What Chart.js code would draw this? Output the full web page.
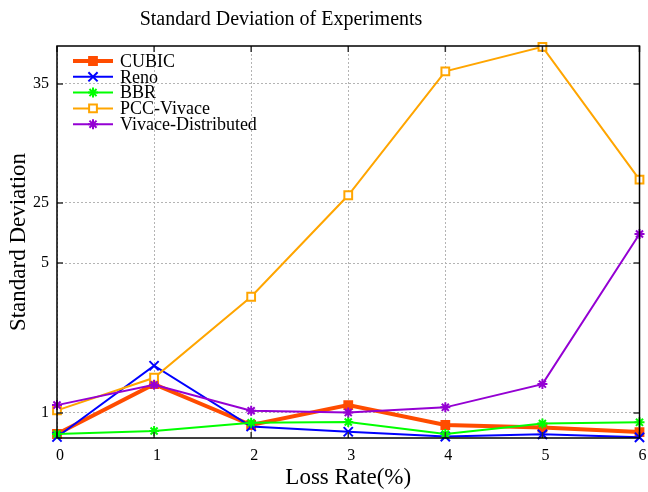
<!DOCTYPE html>
<html>
<head>
<meta charset="utf-8">
<title>Standard Deviation of Experiments</title>
<script src="https://cdn.jsdelivr.net/npm/chart.js@4/dist/chart.umd.min.js"></script>
<style>
  html, body { margin: 0; padding: 0; background: #fff; }
  canvas { display: block; }
</style>
</head>
<body>
<canvas id="sd-chart" width="648" height="492"></canvas>
<script>
// data
const lossRates = [0, 1, 2, 3, 4, 5, 6];
const seriesNames = ['CUBIC', 'Reno', 'BBR', 'PCC-Vivace', 'Vivace-Distributed'];
const cubicSd = [0.44, 1.77, 0.68, 1.21, 0.68, 0.61, 0.49];
const renoSd = [0.36, 2.26, 0.64, 0.50, 0.37, 0.43, 0.35];
const bbrSd = [0.44, 0.52, 0.74, 0.76, 0.44, 0.72, 0.75];
const vivaceSd = [1.07, 1.94, 4.10, 25.65, 36.07, 38.13, 26.96];
const vivaceDistSd = [1.21, 1.75, 1.06, 1.01, 1.15, 1.77, 14.67];
const yTickValues = [1, 5, 25, 35];

// the y axis of the original is stretched unevenly between its labels,
// so the scale maps values piecewise: [value, fraction of axis height]
const yKnots = [[0.333, 0], [1, 0.0638], [5, 0.4464], [25, 0.5995], [35, 0.9031], [38.2, 1]];

class PiecewiseScale extends Chart.LinearScale {
    static id = 'piecewise';
    static defaults = Chart.LinearScale.defaults;

    buildTicks() {
        return yTickValues.map(v => ({ value: v }));
    }

    getPixelForValue(value) {
        const k = yKnots;
        let i = 0;
        while (i < k.length - 2 && value > k[i + 1][0]) i++;
        const f = k[i][1] + (value - k[i][0]) * (k[i + 1][1] - k[i][1]) / (k[i + 1][0] - k[i][0]);
        return this.getPixelForDecimal(f);
    }

    getValueForPixel(pixel) {
        const f = this.getDecimalForPixel(pixel);
        const k = yKnots;
        let i = 0;
        while (i < k.length - 2 && f > k[i + 1][1]) i++;
        return k[i][0] + (f - k[i][1]) * (k[i + 1][0] - k[i][0]) / (k[i + 1][1] - k[i][1]);
    }
}
Chart.register(PiecewiseScale);

const FONT = 'Liberation Serif';

// frame, inward tick marks, title and legend drawn like the original
const decorPlugin = {
    id: 'decor',
    afterDraw(chart) {
        const ctx = chart.ctx;
        const area = chart.chartArea;
        const xs = chart.scales.x;
        const ys = chart.scales.y;

        ctx.save();
        ctx.strokeStyle = '#333';
        ctx.lineWidth = 1.5;
        ctx.beginPath();
        xs.ticks.forEach((t, i) => {
            const px = xs.getPixelForTick(i);
            ctx.moveTo(px, area.bottom); ctx.lineTo(px, area.bottom - 6);
            ctx.moveTo(px, area.top); ctx.lineTo(px, area.top + 6);
        });
        ys.ticks.forEach((t, i) => {
            const py = ys.getPixelForTick(i);
            ctx.moveTo(area.left, py); ctx.lineTo(area.left + 6, py);
            ctx.moveTo(area.right, py); ctx.lineTo(area.right - 6, py);
        });
        ctx.stroke();

        ctx.strokeStyle = '#000';
        ctx.lineWidth = 1.5;
        ctx.strokeRect(area.left, area.top, area.right - area.left, area.bottom - area.top);

        // title
        ctx.fillStyle = '#000';
        ctx.font = '20px "' + FONT + '"';
        ctx.textAlign = 'center';
        ctx.textBaseline = 'alphabetic';
        ctx.fillText('Standard Deviation of Experiments', 281, 25);

        // legend
        ctx.font = '18px "' + FONT + '"';
        ctx.textAlign = 'left';
        ctx.textBaseline = 'middle';
        chart.data.datasets.forEach((ds, i) => {
            const y = 61 + i * 15.8;
            ctx.strokeStyle = ds.borderColor;
            ctx.lineWidth = ds.borderWidth;
            ctx.beginPath();
            ctx.moveTo(73, y); ctx.lineTo(113, y);
            ctx.stroke();
            ctx.strokeStyle = ds.borderColor;
            ctx.fillStyle = ds.pointBackgroundColor;
            ctx.lineWidth = ds.pointBorderWidth;
            Chart.helpers.drawPoint(ctx, {
                pointStyle: ds.pointStyle,
                radius: ds.pointRadius,
                borderWidth: ds.pointBorderWidth,
                rotation: 0
            }, 93, y);
            ctx.fillStyle = '#000';
            ctx.fillText(ds.label, 120, y + 1);
        });
        ctx.restore();
    }
};

function makeSeries(label, values, color, lineWidth, pointStyle, radius, fillColor, order) {
    return {
        label: label,
        data: values,
        borderColor: color,
        backgroundColor: color,
        borderWidth: lineWidth,
        pointStyle: pointStyle,
        pointRadius: radius,
        pointHoverRadius: radius,
        pointBorderWidth: 2,
        pointBackgroundColor: fillColor,
        pointBorderColor: color,
        tension: 0,
        fill: false,
        clip: false,
        order: order
    };
}

const ctx = document.getElementById('sd-chart');
new Chart(ctx, {
    type: 'line',
    data: {
        labels: lossRates,
        datasets: [
            makeSeries(seriesNames[0], cubicSd, '#ff4c00', 4, 'rect', 5.5, '#ff4c00', 4),
            makeSeries(seriesNames[1], renoSd, '#0000ff', 2, 'crossRot', 6.5, '#0000ff', 3),
            makeSeries(seriesNames[2], bbrSd, '#00ff00', 2, 'star', 5, '#00ff00', 2),
            makeSeries(seriesNames[3], vivaceSd, '#ffa500', 2, 'rect', 5.5, '#ffffff', 1),
            makeSeries(seriesNames[4], vivaceDistSd, '#9400d3', 2, 'star', 5, '#9400d3', 0)
        ]
    },
    options: {
        responsive: false,
        animation: false,
        layout: { padding: { top: 46, right: 8, left: 0, bottom: 0 } },
        plugins: {
            legend: { display: false },
            title: { display: false },
            tooltip: { enabled: false }
        },
        scales: {
            x: {
                type: 'linear',
                min: 0,
                max: 6,
                afterFit: scale => {
                    scale.height = 54;
                    scale.paddingLeft = 0;
                    scale.paddingRight = 0;
                },
                ticks: {
                    stepSize: 1,
                    padding: 8,
                    labelOffset: 3,
                    color: '#000',
                    font: { family: FONT, size: 16 }
                },
                grid: { color: '#b4b4b4', lineWidth: 1, drawTicks: false },
                border: { display: false, dash: [2, 2] },
                title: {
                    display: true,
                    text: 'Loss Rate(%)',
                    color: '#000',
                    font: { family: FONT, size: 23 },
                    padding: { top: 0, bottom: 0 }
                }
            },
            y: {
                type: 'piecewise',
                min: 0.333,
                max: 38.2,
                afterFit: scale => { scale.width = 57; },
                ticks: {
                    padding: 8,
                    color: '#000',
                    font: { family: FONT, size: 16 }
                },
                grid: { color: '#b4b4b4', lineWidth: 1, drawTicks: false },
                border: { display: false, dash: [2, 2] },
                title: {
                    display: true,
                    text: 'Standard Deviation',
                    color: '#000',
                    font: { family: FONT, size: 23 },
                    padding: { top: 5, bottom: 0 }
                }
            }
        }
    },
    plugins: [decorPlugin]
});
</script>
</body>
</html>
